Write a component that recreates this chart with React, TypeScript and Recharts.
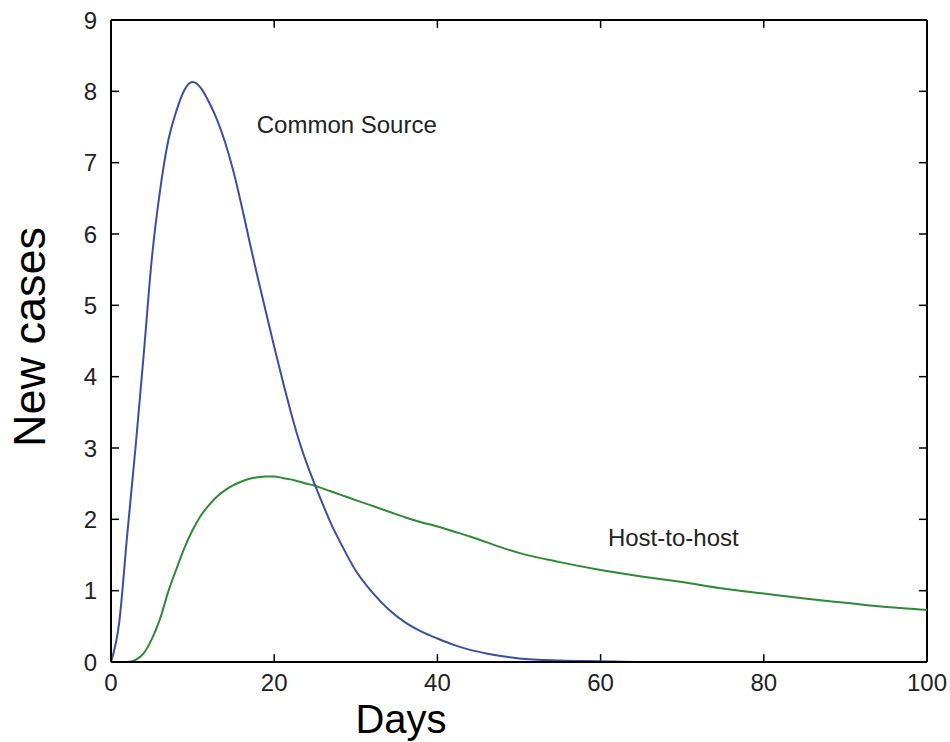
import React from 'react'
import {
  LineChart,
  Line,
  XAxis,
  YAxis,
  ReferenceLine,
  ReferenceDot,
} from 'recharts'

// days since onset
const days = [
  0, 1, 2, 3, 4, 5, 6, 7, 8, 9, 10, 11, 12, 13, 14, 15, 16, 17, 18, 19, 20,
  21, 22, 23, 24, 25, 26, 27, 28, 30, 32, 34, 36, 38, 40, 42, 44, 46, 48, 50,
  55, 60, 65, 70, 75, 80, 85, 90, 95, 100,
]

const commonSource = [
  0, 0.55, 1.8, 3.0, 4.3, 5.65, 6.6, 7.3, 7.72, 8.02, 8.13, 8.05, 7.85, 7.6,
  7.28, 6.88, 6.4, 5.88, 5.38, 4.9, 4.42, 3.96, 3.52, 3.12, 2.78, 2.48, 2.2,
  1.93, 1.7, 1.28, 0.98, 0.74, 0.56, 0.43, 0.33, 0.24, 0.17, 0.12, 0.08, 0.05,
  0.02, 0.01, 0, 0, 0, 0, 0, 0, 0, 0,
]

const hostToHost = [
  0, 0, 0, 0.03, 0.12, 0.32, 0.6, 0.98, 1.3, 1.6, 1.85, 2.05, 2.2, 2.32, 2.41,
  2.48, 2.53, 2.57, 2.59, 2.6, 2.6, 2.58, 2.56, 2.53, 2.5, 2.47, 2.43, 2.39,
  2.35, 2.27, 2.19, 2.11, 2.03, 1.96, 1.9, 1.83, 1.76, 1.68, 1.6, 1.53, 1.4,
  1.29, 1.2, 1.12, 1.03, 0.96, 0.89, 0.83, 0.77, 0.73,
]

const xTicks = [0, 20, 40, 60, 80, 100]
const yTicks = [0, 1, 2, 3, 4, 5, 6, 7, 8, 9]

const data = days.map((d, i) => ({
  day: d,
  common: commonSource[i],
  host: hostToHost[i],
}))

const FONT = '"Liberation Sans", Arial, Helvetica, sans-serif'
const BLUE = '#3a4fa3'
const GREEN = '#2f8a34'

// inward tick length in data units (about 8px)
const TX = 0.11
const TY = 0.98

export default function App() {
  return (
    <div style={{ position: 'absolute', left: 0, top: 0, background: '#fff' }}>
      <LineChart
        width={950}
        height={742}
        data={data}
        margin={{ top: 20, right: 23, bottom: 0, left: 0 }}
        style={{ fontFamily: FONT }}
      >
        <XAxis
          dataKey="day"
          type="number"
          domain={[0, 100]}
          ticks={xTicks}
          height={80}
          tickSize={0}
          tickMargin={12}
          tickLine={false}
          axisLine={{ stroke: '#000', strokeWidth: 2 }}
          tick={{ fontSize: 24, fill: '#222', fontFamily: FONT }}
          label={() => (
            <text x={401} y={733} textAnchor="middle" fontSize={40} fill="#000" fontFamily={FONT}>
              Days
            </text>
          )}
        />
        <YAxis
          type="number"
          domain={[0, 9]}
          ticks={yTicks}
          width={111}
          tickSize={0}
          tickMargin={14}
          tickLine={false}
          axisLine={{ stroke: '#000', strokeWidth: 2 }}
          tick={{ fontSize: 24, fill: '#222', fontFamily: FONT }}
          label={() => (
            <text
              x={45}
              y={337}
              transform="rotate(-90, 45, 337)"
              textAnchor="middle"
              fontSize={45}
              fill="#000"
              fontFamily={FONT}
            >
              New cases
            </text>
          )}
        />

        {/* box frame */}
        <ReferenceLine y={9} stroke="#000" strokeWidth={2} />
        <ReferenceLine x={100} stroke="#000" strokeWidth={2} />

        {/* inward ticks on all four sides */}
        {xTicks.slice(1, -1).map(t => (
          <ReferenceLine key={`xb-${t}`} segment={[{ x: t, y: 0 }, { x: t, y: TX }]} stroke="#000" strokeWidth={1.5} />
        ))}
        {xTicks.slice(1, -1).map(t => (
          <ReferenceLine key={`xt-${t}`} segment={[{ x: t, y: 9 }, { x: t, y: 9 - TX }]} stroke="#000" strokeWidth={1.5} />
        ))}
        {yTicks.slice(1, -1).map(t => (
          <ReferenceLine key={`yl-${t}`} segment={[{ x: 0, y: t }, { x: TY, y: t }]} stroke="#000" strokeWidth={1.5} />
        ))}
        {yTicks.slice(1, -1).map(t => (
          <ReferenceLine key={`yr-${t}`} segment={[{ x: 100, y: t }, { x: 100 - TY, y: t }]} stroke="#000" strokeWidth={1.5} />
        ))}

        <Line
          type="monotone"
          dataKey="host"
          stroke={GREEN}
          strokeWidth={2}
          dot={false}
          isAnimationActive={false}
        />
        <Line
          type="monotone"
          dataKey="common"
          stroke={BLUE}
          strokeWidth={2}
          dot={false}
          isAnimationActive={false}
        />

        <ReferenceDot
          x={17.86}
          y={7.41}
          r={0}
          stroke="none"
          fill="none"
          label={(p: any) => (
            <text x={p.viewBox.x} y={p.viewBox.y} fontSize={24} fill="#222" fontFamily={FONT}>
              Common Source
            </text>
          )}
        />
        <ReferenceDot
          x={60.9}
          y={1.62}
          r={0}
          stroke="none"
          fill="none"
          label={(p: any) => (
            <text x={p.viewBox.x} y={p.viewBox.y} fontSize={24} fill="#222" fontFamily={FONT}>
              Host-to-host
            </text>
          )}
        />
      </LineChart>
    </div>
  )
}
